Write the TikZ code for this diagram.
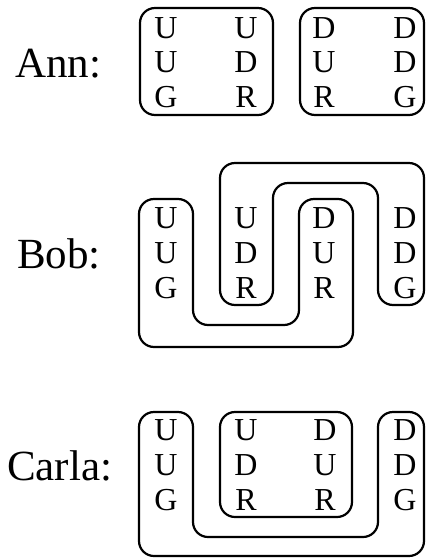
\documentclass[tikz,border=0pt]{standalone}
\usepackage{fontspec}
\setmainfont{Liberation Serif}
\begin{document}
\begin{tikzpicture}[x=1pt,y=-1pt,
  lbl/.style={anchor=base west,inner sep=0pt,font=\fontsize{43}{43}\selectfont},
  ltr/.style={anchor=base,inner sep=0pt,font=\fontsize{32}{32}\selectfont},
  grp/.style={draw=black,line width=2.2pt,rounded corners=15pt}]
\useasboundingbox (0,0) rectangle (426,558);
% Ann
\node[lbl] (ann) at (15,77) {Ann:};
\node[ltr] (a11) at (166,38) {U};
\node[ltr] (a12) at (246,38) {U};
\node[ltr] (a13) at (324,38) {D};
\node[ltr] (a14) at (405,38) {D};
\node[ltr] (a21) at (166,72) {U};
\node[ltr] (a22) at (246,72) {D};
\node[ltr] (a23) at (324,72) {U};
\node[ltr] (a24) at (405,72) {D};
\node[ltr] (a31) at (166,107) {G};
\node[ltr] (a32) at (246,107) {R};
\node[ltr] (a33) at (324,107) {R};
\node[ltr] (a34) at (405,107) {G};
\draw[grp] (140,8) rectangle (273,115);
\draw[grp] (300,8) rectangle (424,115);
% Bob
\node[lbl] (bob) at (17,268) {Bob:};
\node[ltr] (b11) at (166,228) {U};
\node[ltr] (b12) at (246,228) {U};
\node[ltr] (b13) at (324,228) {D};
\node[ltr] (b14) at (405,228) {D};
\node[ltr] (b21) at (166,263) {U};
\node[ltr] (b22) at (246,263) {D};
\node[ltr] (b23) at (324,263) {U};
\node[ltr] (b24) at (405,263) {D};
\node[ltr] (b31) at (166,298) {G};
\node[ltr] (b32) at (246,298) {R};
\node[ltr] (b33) at (324,298) {R};
\node[ltr] (b34) at (405,298) {G};
\draw[grp] (139,199) -- (193,199) -- (193,325) -- (299,325) -- (299,199) -- (353,199) -- (353,347) -- (139,347) -- cycle;
\draw[grp] (220,163) -- (424,163) -- (424,305) -- (378,305) -- (378,183) -- (273,183) -- (273,305) -- (220,305) -- cycle;
% Carla
\node[lbl] (carla) at (7,480) {Carla:};
\node[ltr] (c11) at (166,440) {U};
\node[ltr] (c12) at (246,440) {U};
\node[ltr] (c13) at (325,440) {D};
\node[ltr] (c14) at (405,440) {D};
\node[ltr] (c21) at (166,475) {U};
\node[ltr] (c22) at (246,475) {D};
\node[ltr] (c23) at (325,475) {U};
\node[ltr] (c24) at (405,475) {D};
\node[ltr] (c31) at (166,510) {G};
\node[ltr] (c32) at (246,510) {R};
\node[ltr] (c33) at (325,510) {R};
\node[ltr] (c34) at (405,510) {G};
\draw[grp] (139,412) -- (193,412) -- (193,537) -- (378,537) -- (378,412) -- (424,412) -- (424,556) -- (139,556) -- cycle;
\draw[grp] (220,412) rectangle (352,517);
\end{tikzpicture}
\end{document}
